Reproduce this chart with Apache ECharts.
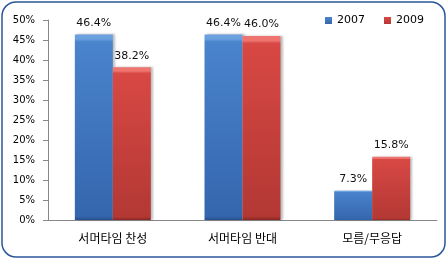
<!DOCTYPE html>
<html><head><meta charset="utf-8">
<script src="https://cdn.jsdelivr.net/npm/echarts@6/dist/echarts.min.js"></script>
<style>html,body{margin:0;padding:0;background:#fff}#c{width:448px;height:262px}</style>
</head><body><div id="c"></div>
<script>
const categories = ['서머타임 찬성', '서머타임 반대', '모름/무응답'];
const series2007 = [46.4, 46.4, 7.3];
const series2009 = [38.2, 46.0, 15.8];
const seriesNames = ['2007', '2009'];
const yTicks = [0, 5, 10, 15, 20, 25, 30, 35, 40, 45, 50];

const chart = echarts.init(document.getElementById('c'), null, {renderer: 'canvas'});
function grad(top, bottom) {
  return new echarts.graphic.LinearGradient(0, 0, 0, 1, [
    {offset: 0, color: top}, {offset: 0.025, color: top}, {offset: 0.04, color: bottom.mid},
    {offset: 0.98, color: bottom.end}, {offset: 1, color: bottom.edge}
  ]);
}
const blueFill = grad('#6aa0e0', {mid: '#4a84cc', end: '#3466ad', edge: '#26508c'});
const redFill = grad('#ee7470', {mid: '#d84844', end: '#b33834', edge: '#8a2623'});
const labelStyle = {show: true, position: 'top', distance: 6, formatter: p => p.value.toFixed(1) + '%',
  fontFamily: 'DejaVu Sans', fontSize: 11, color: '#111'};
chart.setOption({
  animation: false,
  graphic: [{type: 'rect', shape: {x: 2, y: 2, width: 443, height: 255, r: 14},
    style: {fill: 'none', stroke: '#2b5797', lineWidth: 1.5}, z: -1}],
  legend: {data: seriesNames, left: 320, top: 10, itemWidth: 7, itemHeight: 7, itemGap: 19,
    textStyle: {fontFamily: 'DejaVu Sans', fontSize: 11, color: '#000'}, icon: 'rect'},
  grid: {left: 48, right: 11, top: 20, bottom: 42},
  xAxis: {type: 'category', data: categories,
    axisLine: {lineStyle: {color: '#888'}},
    axisTick: {length: 4, lineStyle: {color: '#888'}},
    axisLabel: {fontFamily: 'Noto Sans CJK KR', fontSize: 12, color: '#000', margin: 12}},
  yAxis: {type: 'value', min: 0, max: 50, interval: 5,
    axisLine: {show: true, lineStyle: {color: '#888'}},
    axisTick: {show: true, length: 5, lineStyle: {color: '#888'}},
    splitLine: {show: false},
    axisLabel: {formatter: v => yTicks.includes(v) ? v + '%' : '', fontFamily: 'DejaVu Sans', fontSize: 10, color: '#000', margin: 13}},
  series: [
    {name: seriesNames[0], type: 'bar', data: series2007, barWidth: 38, barGap: '0%',
      itemStyle: {color: blueFill, shadowColor: 'rgba(0,0,0,0.25)', shadowOffsetX: 2, shadowBlur: 2},
      label: labelStyle},
    {name: seriesNames[1], type: 'bar', data: series2009, barWidth: 38, barGap: '0%',
      itemStyle: {color: redFill, shadowColor: 'rgba(0,0,0,0.25)', shadowOffsetX: 2, shadowBlur: 2},
      label: labelStyle}
  ]
});
</script></body></html>
